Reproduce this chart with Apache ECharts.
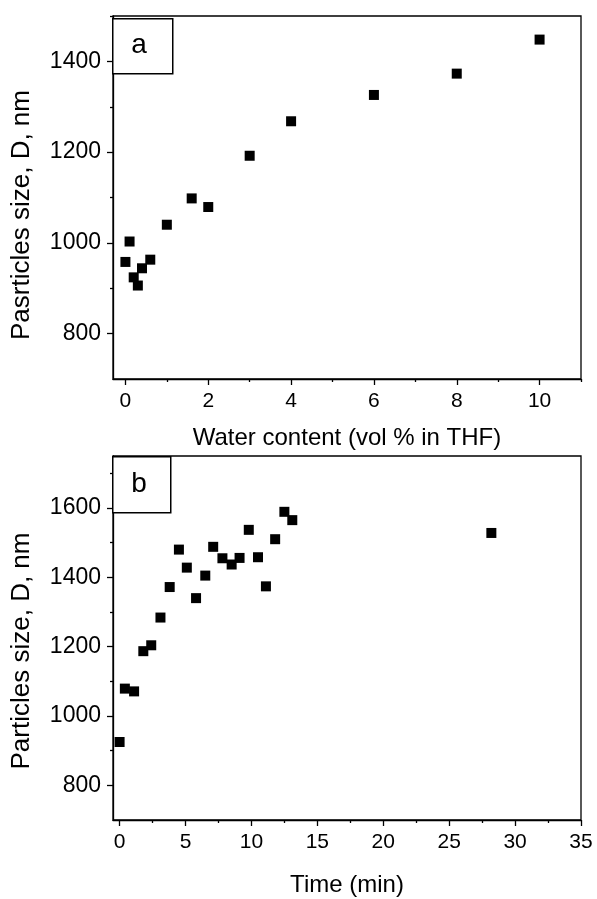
<!DOCTYPE html>
<html>
<head>
<meta charset="utf-8">
<script src="https://cdn.jsdelivr.net/npm/echarts@6/dist/echarts.min.js"></script>
<style>
  html, body { margin: 0; padding: 0; background: #fff; }
  #chart { width: 597px; height: 899px; }
</style>
</head>
<body>
<div id="chart"></div>
<script>
// panel a: size vs water content
var waterContent = [0, 0.1, 0.2, 0.3, 0.4, 0.6, 1, 1.6, 2, 3, 4, 6, 8, 10];
var sizeA = [958, 1003, 924, 906, 944, 963, 1040, 1098, 1079, 1192, 1268, 1326, 1373, 1448];

// panel b: size vs time
var timeMin = [0, 0.4, 1.1, 1.8, 2.4, 3.1, 3.8, 4.5, 5.1, 5.8, 6.5, 7.1, 7.8, 8.5, 9.1, 9.8, 10.5, 11.1, 11.8, 12.5, 13.1, 28.2];
var sizeB = [925, 1079, 1071, 1187, 1204, 1284, 1372, 1480, 1428, 1340, 1405, 1488, 1455, 1437, 1456, 1537, 1458, 1374, 1510, 1589, 1565, 1528];

// tick values
var xTicksA = [0, 2, 4, 6, 8, 10];
var xMinorA = [1, 3, 5, 7, 9, 11];
var yTicksA = [800, 1000, 1200, 1400];
var yMinorA = [900, 1100, 1300, 1500];
var xTicksB = [0, 5, 10, 15, 20, 25, 30, 35];
var xMinorB = [2.5, 7.5, 12.5, 17.5, 22.5, 27.5, 32.5];
var yTicksB = [800, 1000, 1200, 1400, 1600];
var yMinorB = [900, 1100, 1300, 1500, 1700];

var font = 'Liberation Sans, Arial, sans-serif';
var lineStyle = { color: '#000', width: 1.3 };

function plain(v) { return String(v); }

function majorX(grid, min, max, ticks) {
    return {
        type: 'value', gridIndex: grid, min: min, max: max, position: 'bottom',
        axisLine: { show: true, onZero: false, lineStyle: lineStyle },
        axisTick: { show: true, length: 6, customValues: ticks, lineStyle: lineStyle },
        axisLabel: { customValues: ticks, formatter: plain, margin: 12, color: '#000', fontFamily: font, fontSize: 21 },
        splitLine: { show: false }
    };
}
function minorX(grid, min, max, ticks) {
    return {
        type: 'value', gridIndex: grid, min: min, max: max, position: 'bottom',
        axisLine: { show: false, onZero: false },
        axisTick: { show: true, length: 3, customValues: ticks, lineStyle: lineStyle },
        axisLabel: { show: false },
        splitLine: { show: false }
    };
}
function majorY(grid, min, max, ticks) {
    return {
        type: 'value', gridIndex: grid, min: min, max: max, position: 'left',
        axisLine: { show: true, onZero: false, lineStyle: lineStyle },
        axisTick: { show: true, length: 6, customValues: ticks, lineStyle: lineStyle },
        axisLabel: { customValues: ticks, formatter: plain, margin: 12, color: '#000', fontFamily: font, fontSize: 23 },
        splitLine: { show: false }
    };
}
function minorY(grid, min, max, ticks) {
    return {
        type: 'value', gridIndex: grid, min: min, max: max, position: 'left',
        axisLine: { show: false, onZero: false },
        axisTick: { show: true, length: 3, customValues: ticks, lineStyle: lineStyle },
        axisLabel: { show: false },
        splitLine: { show: false }
    };
}

var chart = echarts.init(document.getElementById('chart'));

var option = {
    animation: false,
    backgroundColor: '#fff',
    grid: [
        { left: 113, top: 16, width: 468, height: 363, show: true, borderColor: '#000', borderWidth: 1.3, backgroundColor: 'transparent' },
        { left: 113, top: 456, width: 468, height: 364, show: true, borderColor: '#000', borderWidth: 1.3, backgroundColor: 'transparent' }
    ],
    xAxis: [
        majorX(0, -0.3, 11, xTicksA),
        minorX(0, -0.3, 11, xMinorA),
        majorX(1, -0.5, 35, xTicksB),
        minorX(1, -0.5, 35, xMinorB)
    ],
    yAxis: [
        majorY(0, 700, 1500, yTicksA),
        minorY(0, 700, 1500, yMinorA),
        majorY(1, 700, 1750, yTicksB),
        minorY(1, 700, 1750, yMinorB)
    ],
    series: [
        {
            type: 'scatter', xAxisIndex: 0, yAxisIndex: 0,
            symbol: 'rect', symbolSize: 10,
            itemStyle: { color: '#000', opacity: 1 },
            data: waterContent.map(function (x, i) { return [x, sizeA[i]]; })
        },
        {
            type: 'scatter', xAxisIndex: 2, yAxisIndex: 2,
            symbol: 'rect', symbolSize: 10,
            itemStyle: { color: '#000', opacity: 1 },
            data: timeMin.map(function (x, i) { return [x, sizeB[i]]; })
        }
    ],
    graphic: [
        // panel label boxes
        {
            type: 'rect', left: 112, top: 18, z: 100,
            shape: { width: 60, height: 55 },
            style: { fill: '#fff', stroke: '#000', lineWidth: 1.5 }
        },
        {
            type: 'text', x: 139, y: 45, z: 101,
            style: { text: 'a', font: '28px ' + font, fill: '#000', align: 'center', verticalAlign: 'middle' }
        },
        {
            type: 'rect', left: 112, top: 456, z: 100,
            shape: { width: 58, height: 56 },
            style: { fill: '#fff', stroke: '#000', lineWidth: 1.5 }
        },
        {
            type: 'text', x: 139, y: 484, z: 101,
            style: { text: 'b', font: '28px ' + font, fill: '#000', align: 'center', verticalAlign: 'middle' }
        },
        // axis titles
        {
            type: 'text', x: 347, y: 438,
            style: { text: 'Water content (vol % in THF)', font: '24px ' + font, fill: '#000', align: 'center', verticalAlign: 'middle' }
        },
        {
            type: 'text', x: 347, y: 885,
            style: { text: 'Time (min)', font: '24px ' + font, fill: '#000', align: 'center', verticalAlign: 'middle' }
        },
        {
            type: 'text', x: 22, y: 215, rotation: Math.PI / 2,
            style: { text: 'Pasrticles size, D, nm', font: '26px ' + font, fill: '#000', align: 'center', verticalAlign: 'middle' }
        },
        {
            type: 'text', x: 22, y: 651, rotation: Math.PI / 2,
            style: { text: 'Particles size, D, nm', font: '26px ' + font, fill: '#000', align: 'center', verticalAlign: 'middle' }
        }
    ]
};

chart.setOption(option);
</script>
</body>
</html>
